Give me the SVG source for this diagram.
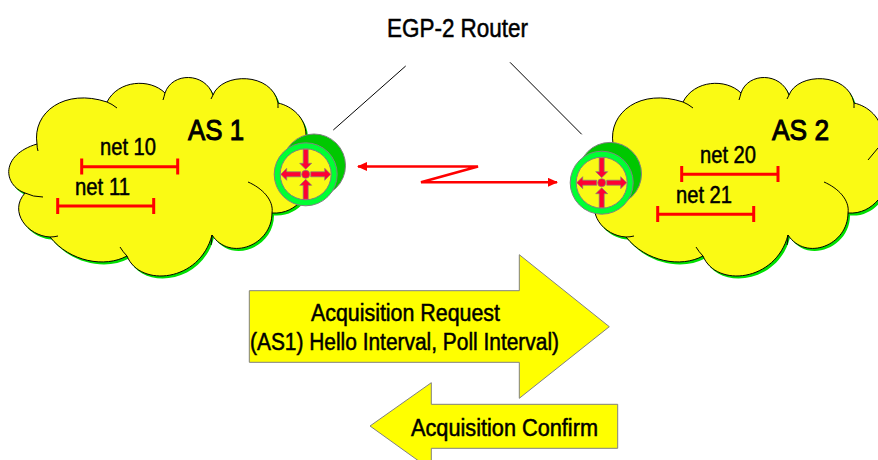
<svg xmlns="http://www.w3.org/2000/svg" width="878" height="460" viewBox="0 0 878 460">
<style>
text{font-family:"Liberation Sans",Arial,sans-serif;fill:#000;font-size:23px;stroke:#000;stroke-width:.5px}
.big{font-size:29px;stroke-width:1px}
.net{fill:none;stroke:#f00;stroke-width:3}
.tail{fill:none;stroke:#000;stroke-width:1}
.big-arrow{fill:#ff0;stroke:#808080;stroke-width:1}
.spoke{fill:#ff0033;stroke:#808080;stroke-width:.7}
</style>
<defs>
<path id="cloudShape" d="M37,144C32,112 65,88 107,102C118,80 150,78 165,93C172,72 205,72 213,95C222,72 272,72 278,103C292,106 306,118 306,135C325,150 322,185 302,200C295,208 285,214 272,213C272,245 230,262 212,235C200,282 140,288 127,256C105,268 70,262 50,237C28,236 8,212 25,193C3,185 0,155 37,144Z"/>
<g id="cloud">
<use href="#cloudShape" transform="translate(2,2.5)" fill="#00e000"/>
<use href="#cloudShape" fill="#fafa14" stroke="#000"/>
<path class="tail" d="M37,144Q37,148 38,151M107,102Q112,104 117,108M165,93Q164,97 163,100M213,95Q212,97 211,99M278,103Q278,106 278,108M292,160L302,148M248,182C262,188 274,200 272,213M212,235Q212,240 211,245M127,256Q123,252 120,247M50,237Q54,237 58,236M25,193Q33,197 43,197"/>
</g>
<g id="router">
<circle cx="8.3" cy="-8.8" r="31.5" fill="#00c800" stroke="#808080"/>
<circle r="31.5" fill="#00ff33" stroke="#808080"/>
<circle r="25.5" fill="#fafa14" stroke="#808080"/>
<path class="spoke" d="M-5,-2.5H-19V-6L-25,0L-19,6V2.5H-5Z"/>
<path class="spoke" d="M5,-2.5H19V-6L25,0L19,6V2.5H5Z"/>
<path class="spoke" d="M-2.5,-25V-11H-6L0,-5L6,-11H2.5V-25Z"/>
<path class="spoke" d="M-2.5,25V11H-6L0,5L6,11H2.5V25Z"/>
<circle r="4" fill="#ff0033" stroke="#808080" stroke-width=".7"/>
</g>
<marker id="ah" viewBox="0 0 10 10" refX="9" refY="5" markerWidth="10" markerHeight="9" markerUnits="userSpaceOnUse" orient="auto-start-reverse" preserveAspectRatio="none"><path d="M0,0L10,5L0,10Z" fill="#f00"/></marker>
</defs>

<g id="as1">
<use href="#cloud"/>
<text class="big" x="188" y="140" textLength="56" lengthAdjust="spacingAndGlyphs">AS 1</text>
</g>
<g id="as2">
<use href="#cloud" x="576"/>
<text class="big" x="772" y="140" textLength="57" lengthAdjust="spacingAndGlyphs">AS 2</text>
</g>

<g id="net10"><path class="net" d="M81.7,166.7H177.7M81.7,158.5V174.5M177.7,158.5V174.5"/><text x="100" y="155" textLength="56" lengthAdjust="spacingAndGlyphs">net 10</text></g>
<g id="net11"><path class="net" d="M57.7,206H153.7M57.7,198V214M153.7,198V214"/><text x="75" y="195" textLength="55" lengthAdjust="spacingAndGlyphs">net 11</text></g>
<g id="net20"><path class="net" d="M681.7,174.3H778M681.7,166V182M778,166V182"/><text x="700" y="163" textLength="56" lengthAdjust="spacingAndGlyphs">net 20</text></g>
<g id="net21"><path class="net" d="M657.7,214.3H753.7M657.7,206V222M753.7,206V222"/><text x="676" y="203" textLength="56" lengthAdjust="spacingAndGlyphs">net 21</text></g>

<g id="router1"><use href="#router" x="305.7" y="174.3"/></g>
<g id="router2"><use href="#router" x="601.7" y="182.7"/></g>

<g id="connectors">
<path d="M333.3,130L405.7,66M510,62.3L581.7,134.3" fill="none" stroke="#000" stroke-width="1"/>
<path d="M358,166.5H478L421,182.3H557" fill="none" stroke="#f00" stroke-width="2.6" marker-start="url(#ah)" marker-end="url(#ah)"/>
</g>

<g id="egp-label"><text x="387" y="37" style="font-size:25px" textLength="141" lengthAdjust="spacingAndGlyphs">EGP-2 Router</text></g>

<g id="acq-request">
<path class="big-arrow" d="M249.3,290.7H519.3V254.7L609.3,326.7L519.3,398.3V362.3H249.3Z"/>
<text x="311" y="321" textLength="189" lengthAdjust="spacingAndGlyphs">Acquisition Request</text>
<text x="250" y="350" textLength="309" lengthAdjust="spacingAndGlyphs">(AS1) Hello Interval, Poll Interval)</text>
</g>
<g id="acq-confirm">
<path class="big-arrow" d="M431.3,404.3H617.7V448.3H431.3V470L370,426L431.3,382.7Z"/>
<text x="411" y="436" textLength="187" lengthAdjust="spacingAndGlyphs">Acquisition Confirm</text>
</g>
</svg>
